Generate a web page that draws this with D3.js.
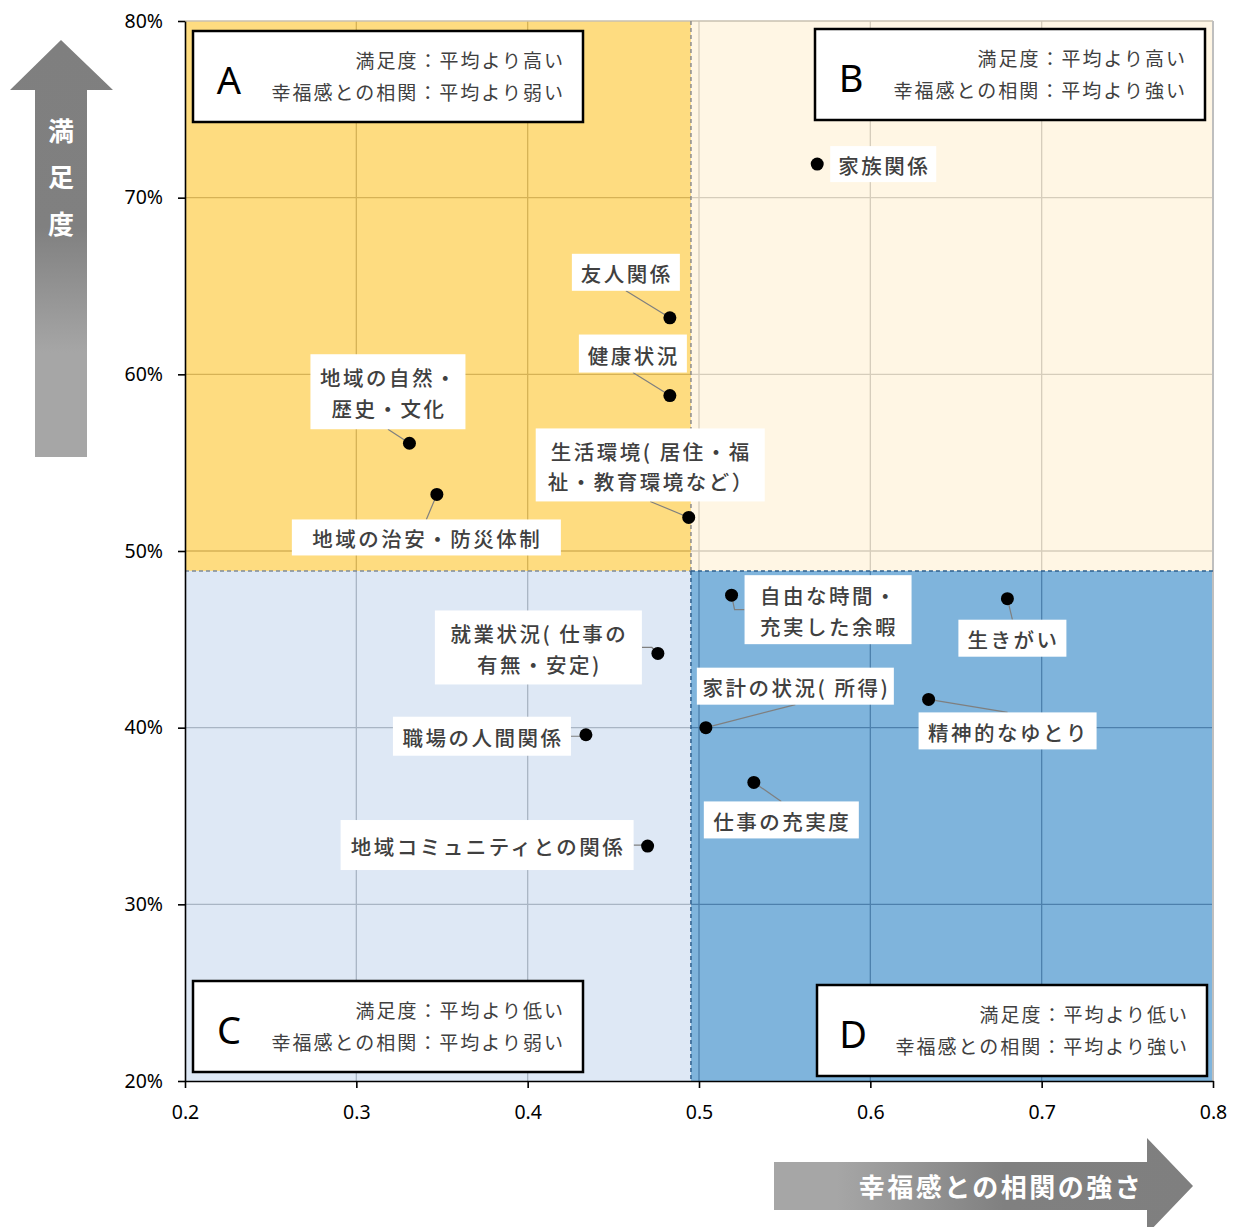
<!DOCTYPE html>
<html>
<head>
<meta charset="utf-8">
<script src="https://cdn.jsdelivr.net/npm/d3@7"></script>
<style>
  body { margin: 0; background: #fff; }
  text { font-family: "Noto Sans CJK JP", "Noto Sans", sans-serif; }
</style>
</head>
<body>
<div id="graf"></div>
<script>
// I. Datos

// items (lineas de la etiqueta)
const items = [
  ['家族関係'],
  ['友人関係'],
  ['健康状況'],
  ['地域の自然・', '歴史・文化'],
  ['地域の治安・防災体制'],
  ['生活環境( 居住・福', '祉・教育環境など）'],
  ['自由な時間・', '充実した余暇'],
  ['生きがい'],
  ['就業状況( 仕事の', '有無・安定)'],
  ['精神的なゆとり'],
  ['家計の状況( 所得)'],
  ['職場の人間関係'],
  ['仕事の充実度'],
  ['地域コミュニティとの関係']
]
// 幸福感との相関
const correlacion = [0.569, 0.483, 0.483, 0.331, 0.347, 0.494, 0.519, 0.680, 0.476, 0.634, 0.504, 0.434, 0.532, 0.470]
// 満足度
const satisfaccion = [0.719, 0.632, 0.588, 0.561, 0.532, 0.519, 0.475, 0.473, 0.442, 0.416, 0.400, 0.396, 0.369, 0.333]

// promedios (division de cuadrantes)
const promedioX = 0.4953
const promedioY = 0.4887

const ticksX = [0.2, 0.3, 0.4, 0.5, 0.6, 0.7, 0.8]
const ticksY = [0.2, 0.3, 0.4, 0.5, 0.6, 0.7, 0.8]

const cuadLetra = ['A', 'B', 'C', 'D']
const cuadLinea1 = ['満足度：平均より高い', '満足度：平均より高い', '満足度：平均より低い', '満足度：平均より低い']
const cuadLinea2 = ['幸福感との相関：平均より弱い', '幸福感との相関：平均より強い', '幸福感との相関：平均より弱い', '幸福感との相関：平均より強い']

const tituloX = '幸福感との相関の強さ'
const tituloY = ['満', '足', '度']

// II. Configuracion (layout)
ancho_total = 1238
alto_total = 1227
margins = { top: 21, left: 185, right: 25, bottom: 146 }
ancho = ancho_total - margins.left - margins.right
alto = alto_total - margins.top - margins.bottom

// desplazamiento de etiquetas (px, relativo al punto)
const posEtiqueta = [
  { dx: 66, dy: 0, w: 106, h: 36, lead: false },
  { dx: -44, dy: -45.5, w: 108, h: 37, lead: true },
  { dx: -37, dy: -42, w: 108, h: 38, lead: true },
  { dx: -21.5, dy: -51.5, w: 155, h: 75, lead: true },
  { dx: -10.5, dy: 43, w: 269, h: 36, lead: true },
  { dx: -38.5, dy: -52.5, w: 229, h: 73, lead: true },
  { dx: 96.5, dy: 14.5, w: 167, h: 69, lead: true },
  { dx: 5, dy: 39.5, w: 108, h: 37, lead: true },
  { dx: -119.5, dy: -6, w: 207, h: 74, lead: true },
  { dx: 79, dy: 31.5, w: 178, h: 37, lead: true },
  { dx: 89.5, dy: -41.5, w: 197, h: 37, lead: true },
  { dx: -104, dy: 1.5, w: 178, h: 39, lead: true },
  { dx: 27.5, dy: 37.5, w: 155, h: 37, lead: true },
  { dx: -160.5, dy: -1, w: 293, h: 50, lead: true }
]

const cajas = [
  { x: 193, y: 31, w: 390, h: 91 },
  { x: 815, y: 29, w: 390, h: 91 },
  { x: 193, y: 981, w: 390, h: 91 },
  { x: 817, y: 985, w: 390, h: 91 }
]

const colorCuad = ['#FEDC80', '#FFF6E4', '#DEE8F5', '#7FB4DC']
const colorGrid = ['#D6B256', '#D6CDBB', '#A9B5C4', '#4D80AC']

svg = d3.select('#graf').append('svg')
  .attr('width', ancho_total)
  .attr('height', alto_total)

const defs = svg.append('defs')
const gradY = defs.append('linearGradient').attr('id', 'gradY')
  .attr('x1', 0).attr('y1', 0).attr('x2', 0).attr('y2', 1)
gradY.append('stop').attr('offset', '0%').attr('stop-color', '#7F7F7F')
gradY.append('stop').attr('offset', '45%').attr('stop-color', '#808080')
gradY.append('stop').attr('offset', '75%').attr('stop-color', '#A6A6A6')
gradY.append('stop').attr('offset', '100%').attr('stop-color', '#A6A6A6')
const gradX = defs.append('linearGradient').attr('id', 'gradX')
  .attr('x1', 0).attr('y1', 0).attr('x2', 1).attr('y2', 0)
gradX.append('stop').attr('offset', '0%').attr('stop-color', '#A6A6A6')
gradX.append('stop').attr('offset', '15%').attr('stop-color', '#A6A6A6')
gradX.append('stop').attr('offset', '55%').attr('stop-color', '#808080')
gradX.append('stop').attr('offset', '100%').attr('stop-color', '#7F7F7F')

g = svg.append('g')
  .attr('transform', `translate(${margins.left}, ${margins.top})`)

// Escaladores
x = d3.scaleLinear().domain([0.2, 0.8]).range([0, ancho])
y = d3.scaleLinear().domain([0.2, 0.8]).range([alto, 0])

// cuadrantes
const cuads = [
  { x0: x(0.2), x1: x(promedioX), y0: y(0.8), y1: y(promedioY) },
  { x0: x(promedioX), x1: x(0.8), y0: y(0.8), y1: y(promedioY) },
  { x0: x(0.2), x1: x(promedioX), y0: y(promedioY), y1: y(0.2) },
  { x0: x(promedioX), x1: x(0.8), y0: y(promedioY), y1: y(0.2) }
]

cuads.forEach((c, i) => {
  defs.append('clipPath').attr('id', 'clip' + i)
    .append('rect')
    .attr('x', c.x0).attr('y', c.y0)
    .attr('width', c.x1 - c.x0).attr('height', c.y1 - c.y0)

  g.append('rect')
    .attr('x', c.x0).attr('y', c.y0)
    .attr('width', c.x1 - c.x0).attr('height', c.y1 - c.y0)
    .attr('fill', colorCuad[i])

  const gg = g.append('g').attr('clip-path', `url(#clip${i})`)
  gg.selectAll('.vx').data(ticksX.slice(1, -1)).join('line')
    .attr('x1', d => x(d)).attr('x2', d => x(d))
    .attr('y1', 0).attr('y2', alto)
    .attr('stroke', colorGrid[i]).attr('stroke-width', 1.3)
  gg.selectAll('.hy').data(ticksY.slice(1, -1)).join('line')
    .attr('y1', d => y(d)).attr('y2', d => y(d))
    .attr('x1', 0).attr('x2', ancho)
    .attr('stroke', colorGrid[i]).attr('stroke-width', 1.3)
})

// borde superior y derecho
g.append('line').attr('x1', 0).attr('x2', ancho).attr('y1', 0).attr('y2', 0)
  .attr('stroke', '#C8C0B0').attr('stroke-width', 1.5)
g.append('line').attr('x1', ancho).attr('x2', ancho).attr('y1', 0).attr('y2', alto)
  .attr('stroke', '#BFBFBF').attr('stroke-width', 2)

// lineas de promedio (punteadas)
g.append('line')
  .attr('x1', x(promedioX)).attr('x2', x(promedioX))
  .attr('y1', 0).attr('y2', y(promedioY))
  .attr('stroke', '#8C8C8C').attr('stroke-width', 1.5).attr('stroke-dasharray', '4,3')
g.append('line')
  .attr('x1', 0).attr('x2', x(promedioX))
  .attr('y1', y(promedioY)).attr('y2', y(promedioY))
  .attr('stroke', '#7F8A96').attr('stroke-width', 1.5).attr('stroke-dasharray', '4,3')
g.append('line')
  .attr('x1', x(promedioX)).attr('x2', ancho)
  .attr('y1', y(promedioY)).attr('y2', y(promedioY))
  .attr('stroke', '#2F5F8C').attr('stroke-width', 1.5).attr('stroke-dasharray', '4,3')
g.append('line')
  .attr('x1', x(promedioX)).attr('x2', x(promedioX))
  .attr('y1', y(promedioY)).attr('y2', alto)
  .attr('stroke', '#2F5F8C').attr('stroke-width', 1.5).attr('stroke-dasharray', '4,3')

// Ejes
const ejeX = g.append('g')
  .attr('transform', `translate(0, ${alto})`)
  .call(d3.axisBottom(x).tickValues(ticksX).tickFormat(d3.format('.1f'))
    .tickSize(7).tickSizeOuter(0).tickPadding(17))
const ejeY = g.append('g')
  .call(d3.axisLeft(y).tickValues(ticksY).tickFormat(d3.format('.0%'))
    .tickSize(7).tickSizeOuter(0).tickPadding(15))
;[ejeX, ejeY].forEach(e => {
  e.select('.domain').attr('stroke', '#000').attr('stroke-width', 1.6)
  e.selectAll('.tick line').attr('stroke', '#000').attr('stroke-width', 1.6)
  e.selectAll('.tick text')
    .style('font-family', '"Noto Sans", sans-serif')
    .style('font-size', '19.5px')
    .attr('fill', '#000')
})

// cajas de cuadrante
const sv = svg.append('g')
cajas.forEach((c, i) => {
  sv.append('rect')
    .attr('x', c.x).attr('y', c.y).attr('width', c.w).attr('height', c.h)
    .attr('fill', '#fff').attr('stroke', '#000').attr('stroke-width', 2.5)
  sv.append('text')
    .attr('x', c.x + 36).attr('y', c.y + c.h / 2 + 2)
    .attr('text-anchor', 'middle').attr('dominant-baseline', 'central')
    .style('font-family', '"Noto Sans", sans-serif')
    .style('font-size', '38px').attr('fill', '#000')
    .text(cuadLetra[i])
  sv.append('text')
    .attr('x', c.x + c.w - 18).attr('y', c.y + c.h / 2 - 17.5)
    .attr('text-anchor', 'end').attr('dominant-baseline', 'central')
    .style('font-size', '19px').style('letter-spacing', '2px')
    .attr('fill', '#404040')
    .text(cuadLinea1[i])
  sv.append('text')
    .attr('x', c.x + c.w - 18).attr('y', c.y + c.h / 2 + 14.5)
    .attr('text-anchor', 'end').attr('dominant-baseline', 'central')
    .style('font-size', '19px').style('letter-spacing', '2px')
    .attr('fill', '#404040')
    .text(cuadLinea2[i])
})

// etiquetas y lineas guia
const capaLineas = g.append('g')
const capaEtiq = g.append('g')
const capaPuntos = g.append('g')

items.forEach((lines, i) => {
  const px = x(correlacion[i]), py = y(satisfaccion[i])
  const L = posEtiqueta[i]
  const cx = px + L.dx, cy = py + L.dy
  const x0 = cx - L.w / 2, x1 = cx + L.w / 2
  const y0 = cy - L.h / 2, y1 = cy + L.h / 2

  if (L.lead) {
    let pts
    if (py > y0 && py < y1) {
      const ex = px < x0 ? x0 : x1
      const stub = px < x0 ? ex - 10 : ex + 10
      pts = [[ex, cy], [stub, cy], [px, py]]
    } else {
      pts = [[cx, py < y0 ? y0 : y1], [px, py]]
    }
    capaLineas.append('path')
      .attr('d', d3.line()(pts))
      .attr('fill', 'none').attr('stroke', '#7F7F7F').attr('stroke-width', 1.2)
  }

  capaEtiq.append('rect')
    .attr('x', x0).attr('y', y0).attr('width', L.w).attr('height', L.h)
    .attr('fill', '#fff')
  const lh = 30.5
  lines.forEach((t, j) => {
    capaEtiq.append('text')
      .attr('x', cx + 1)
      .attr('y', cy + (j - (lines.length - 1) / 2) * lh + 1)
      .attr('text-anchor', 'middle').attr('dominant-baseline', 'central')
      .style('font-size', '20.5px').style('letter-spacing', '2.5px')
      .style('font-weight', 500)
      .attr('fill', '#404040')
      .text(t)
  })
})

capaPuntos.selectAll('circle')
  .data(items.map((d, i) => i))
  .join('circle')
  .attr('cx', i => x(correlacion[i]))
  .attr('cy', i => y(satisfaccion[i]))
  .attr('r', 6.5)
  .attr('fill', '#000')

// flecha vertical (満足度)
const flechas = svg.append('g')
flechas.append('path')
  .attr('d', d3.line()([[61, 40], [113, 90], [87, 90], [87, 457], [35, 457], [35, 90], [10, 90]]) + 'Z')
  .attr('fill', 'url(#gradY)')
tituloY.forEach((t, j) => {
  flechas.append('text')
    .attr('x', 61).attr('y', 129 + j * 46.5)
    .attr('text-anchor', 'middle').attr('dominant-baseline', 'central')
    .style('font-size', '26px').style('font-weight', 'bold')
    .attr('fill', '#fff')
    .text(t)
})

// flecha horizontal (幸福感との相関の強さ)
flechas.append('path')
  .attr('d', d3.line()([[774, 1162], [1147, 1162], [1147, 1138], [1193, 1186], [1147, 1234], [1147, 1210], [774, 1210]]) + 'Z')
  .attr('fill', 'url(#gradX)')
flechas.append('text')
  .attr('x', 1001).attr('y', 1185)
  .attr('text-anchor', 'middle').attr('dominant-baseline', 'central')
  .style('font-size', '26px').style('font-weight', 'bold').style('letter-spacing', '2.5px')
  .attr('fill', '#fff')
  .text(tituloX)
</script>
</body>
</html>
